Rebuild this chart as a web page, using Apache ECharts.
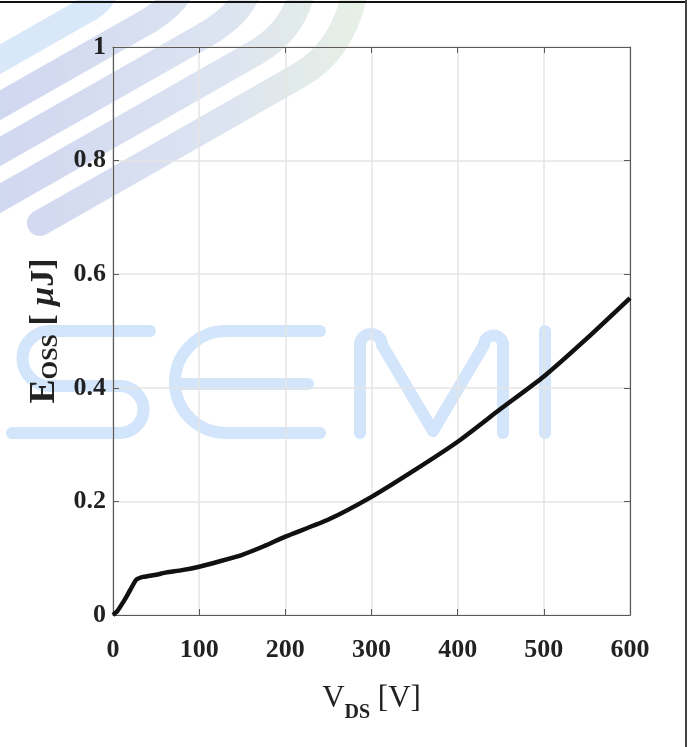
<!DOCTYPE html>
<html>
<head>
<meta charset="utf-8">
<script src="https://cdn.jsdelivr.net/npm/echarts@6/dist/echarts.min.js"></script>
<style>
  html, body { margin: 0; padding: 0; background: #fff; }
  #chart { width: 691px; height: 747px; }
</style>
</head>
<body>
<div id="chart"></div>
<script>
// V_DS [V] and E_OSS [uJ]
var vds  = [0, 5, 12, 20, 27, 35, 50, 62, 80, 100, 125, 150, 175, 200, 250, 300, 350, 400, 450, 500, 550, 600];
var eoss = [0, 0.007, 0.023, 0.044, 0.062, 0.067, 0.071, 0.075, 0.079, 0.085, 0.095, 0.106, 0.121, 0.138, 0.168, 0.208, 0.255, 0.305, 0.363, 0.42, 0.487, 0.558];
var xRange = [0, 600], xStep = 100;
var yRange = [0, 1], yStep = 0.2;

var serif = 'Liberation Serif';
var axisColor = '#5a5a5a';

var chart = echarts.init(document.getElementById('chart'));

// watermark: logo stripes (straight part + bend) and "SEMI" letters
var stripeGrad = {
  type: 'linear', x: 0, y: 0, x2: 380, y2: 0, global: true,
  colorStops: [
    { offset: 0, color: '#d0d7f0' },
    { offset: 0.6, color: '#dde4f1' },
    { offset: 1, color: '#e8f2e3' }
  ]
};
var stripes = [
  [[-10, 65], [90, 8], [100, 2], [105, -8]],
  [[-10, 111], [150, 20], [172, 6], [180, -8]],
  [[-10, 157], [205, 35], [238, 16], [248, -8]],
  [[-10, 204], [255, 53], [292, 32], [302, -8]],
  [[40, 223], [300, 75], [343, 50], [355, -8]]
];
var graphics = [];
stripes.forEach(function (s, i) {
  var st = { fill: null, stroke: i === 0 ? '#d9e8f9' : stripeGrad, lineWidth: 26, lineCap: 'round', lineJoin: 'round' };
  graphics.push({ type: 'polyline', z: -10, shape: { points: [s[0], s[1]] }, style: st });
  graphics.push({
    type: 'bezierCurve', z: -10,
    shape: { x1: s[1][0], y1: s[1][1], cpx1: s[2][0], cpy1: s[2][1], x2: s[3][0], y2: s[3][1] },
    style: st
  });
});

var wm = { fill: null, stroke: '#d2e5fa', lineWidth: 12, lineCap: 'round', lineJoin: 'round' };
function wmLine(pts) { graphics.push({ type: 'polyline', z: -10, shape: { points: pts }, style: wm }); }
function wmArc(cx, cy, r, a0, a1) {
  graphics.push({ type: 'arc', z: -10, shape: { cx: cx, cy: cy, r: r, startAngle: a0, endAngle: a1, clockwise: true }, style: wm });
}
var PI = Math.PI;
// S
wmLine([[150, 331], [50, 331]]);
wmArc(50, 358.5, 27.5, PI / 2, 3 * PI / 2);
wmLine([[50, 386], [120, 386]]);
wmArc(120, 409.5, 23.5, -PI / 2, PI / 2);
wmLine([[120, 433], [12, 433]]);
// E
wmLine([[320, 331], [226, 331]]);
wmArc(226, 382, 51, PI / 2, 3 * PI / 2);
wmLine([[226, 433], [320, 433]]);
wmLine([[178, 384], [308, 384]]);
// M
wmLine([[360, 433], [360, 345]]);
wmArc(371, 345, 11, PI, 2 * PI);
wmLine([[382, 345], [433, 431], [484, 345]]);
wmArc(493.5, 345, 9.5, PI, 2 * PI);
wmLine([[503, 345], [503, 433]]);
// I
wmLine([[545, 331], [545, 433]]);

// picture frame (top and right edges)
graphics.push({ type: 'line', shape: { x1: 0, y1: 2, x2: 687, y2: 2 }, style: { stroke: '#111', lineWidth: 2 } });
graphics.push({ type: 'line', shape: { x1: 686, y1: 0, x2: 686, y2: 747 }, style: { stroke: '#444', lineWidth: 2 } });

function frameAxis(pos) {
  return {
    type: 'value', position: pos,
    min: pos === 'top' ? xRange[0] : yRange[0],
    max: pos === 'top' ? xRange[1] : yRange[1],
    interval: pos === 'top' ? xStep : yStep,
    axisLine: { show: true, onZero: false, lineStyle: { color: axisColor, width: 1.2 } },
    axisTick: { show: true, inside: true, length: 6, lineStyle: { color: axisColor } },
    axisLabel: { show: false },
    splitLine: { show: false }
  };
}

chart.setOption({
  animation: false,
  backgroundColor: '#fff',
  graphic: graphics,
  grid: { left: 113, right: 61, top: 47, bottom: 132 },
  xAxis: [
    {
      type: 'value', position: 'bottom',
      min: xRange[0], max: xRange[1], interval: xStep,
      axisLine: { show: true, onZero: false, lineStyle: { color: axisColor, width: 1.2 } },
      axisTick: { show: true, inside: true, length: 6, lineStyle: { color: axisColor } },
      axisLabel: { margin: 22, fontFamily: serif, fontWeight: 'bold', fontSize: 26, color: '#222' },
      splitLine: { show: true, lineStyle: { color: '#e4e4e4', width: 1.5 } },
      name: '{v|V}{s|DS}{u| [V]}',
      nameLocation: 'middle',
      nameGap: 60,
      nameTextStyle: {
        fontFamily: serif, color: '#222',
        rich: {
          v: { fontFamily: serif, fontSize: 31, color: '#222' },
          s: { fontFamily: serif, fontSize: 20, fontWeight: 'bold', color: '#222', padding: [28, 0, 0, 0] },
          u: { fontFamily: serif, fontSize: 31, color: '#222' }
        }
      }
    },
    frameAxis('top')
  ],
  yAxis: [
    {
      type: 'value', position: 'left',
      min: yRange[0], max: yRange[1], interval: yStep,
      axisLine: { show: true, onZero: false, lineStyle: { color: axisColor, width: 1.2 } },
      axisTick: { show: true, inside: true, length: 6, lineStyle: { color: axisColor } },
      axisLabel: { margin: 7, fontFamily: serif, fontWeight: 'bold', fontSize: 26, color: '#222' },
      splitLine: { show: true, lineStyle: { color: '#e4e4e4', width: 1.5 } },
      name: '{e|E}{s|OSS}{u| [ }{m|μ}{u|J]}',
      nameLocation: 'middle',
      nameGap: 50,
      nameTextStyle: {
        fontFamily: serif, color: '#222',
        rich: {
          e: { fontFamily: serif, fontSize: 36, fontWeight: 'bold', color: '#222' },
          s: { fontFamily: serif, fontSize: 24, fontWeight: 'bold', color: '#222', padding: [12, 0, 0, 0] },
          u: { fontFamily: serif, fontSize: 34, fontWeight: 'bold', color: '#222' },
          m: { fontFamily: serif, fontSize: 34, fontWeight: 'bold', fontStyle: 'italic', color: '#222' }
        }
      }
    },
    frameAxis('right')
  ],
  series: [
    {
      type: 'line',
      xAxisIndex: 0, yAxisIndex: 0,
      data: vds.map(function (v, i) { return [v, eoss[i]]; }),
      showSymbol: false,
      smooth: 0.2,
      lineStyle: { color: '#111', width: 4.5 }
    }
  ]
});
</script>
</body>
</html>
